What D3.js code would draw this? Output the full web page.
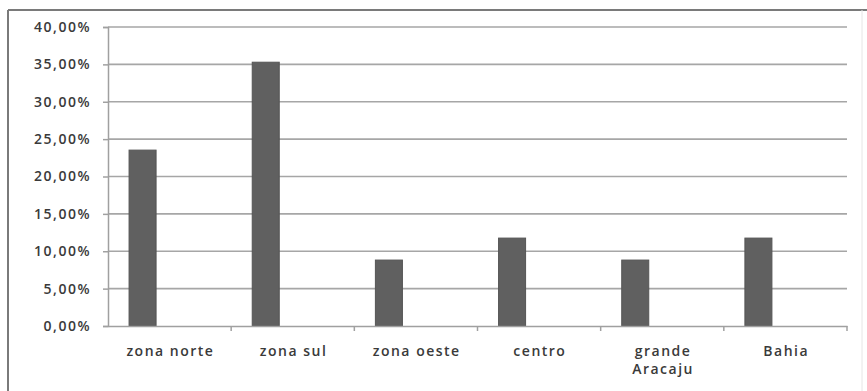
<!DOCTYPE html>
<html>
<head>
<meta charset="utf-8">
<script src="https://cdn.jsdelivr.net/npm/d3@7"></script>
<style>
  html, body { margin: 0; padding: 0; background: #fff; }
  svg { display: block; }
  text { font-family: "Open Sans", "Noto Sans", sans-serif; }
</style>
</head>
<body>
<svg id="chart" width="867" height="391"></svg>
<script>
const categories = ["zona norte", "zona sul", "zona oeste", "centro", "grande Aracaju", "Bahia"];
const categoryLines = [["zona norte"], ["zona sul"], ["zona oeste"], ["centro"], ["grande", "Aracaju"], ["Bahia"]];
const values = [0.2353, 0.3529, 0.0882, 0.1176, 0.0882, 0.1176];
const yTicks = [0, 0.05, 0.10, 0.15, 0.20, 0.25, 0.30, 0.35, 0.40];
const seriesSlots = ["s1", "s2", "s3"];

(function() {
const svg = d3.select("#chart");
const mLeft = 108, mRight = 847, mTop = 27, mBottom = 326;

// frame
svg.append("line").attr("x1", 8).attr("x2", 867).attr("y1", 10).attr("y2", 10)
  .attr("stroke", "#7a7a7a").attr("stroke-width", 2);
svg.append("line").attr("x1", 8).attr("x2", 8).attr("y1", 10).attr("y2", 391)
  .attr("stroke", "#7a7a7a").attr("stroke-width", 2);
svg.append("line").attr("x1", 862).attr("x2", 862).attr("y1", 10).attr("y2", 391)
  .attr("stroke", "#e6e6e6").attr("stroke-width", 1);

const x = d3.scaleBand().domain(categories).range([mLeft, mRight]).padding(0);
const inner = d3.scaleBand().domain(seriesSlots).range([0, x.bandwidth()])
  .paddingInner(0).paddingOuter(0.78);
const y = d3.scaleLinear().domain([0, 0.40]).range([mBottom, mTop]);

const fmt = v => d3.format(".2f")(v * 100).replace(".", ",") + "%";

// gridlines
svg.append("g").selectAll("line").data(yTicks.filter(t => t > 0)).join("line")
  .attr("x1", mLeft).attr("x2", mRight)
  .attr("y1", d => y(d)).attr("y2", d => y(d))
  .attr("stroke", "#a6a6a6").attr("stroke-width", 1.6);

// y axis
const yAxis = svg.append("g").attr("transform", `translate(${mLeft},0)`)
  .call(d3.axisLeft(y).tickValues(yTicks).tickFormat(fmt).tickSize(5).tickPadding(12));
yAxis.select(".domain").attr("stroke", "#a0a0a0").attr("stroke-width", 1.5);
yAxis.selectAll(".tick line").attr("stroke", "#a0a0a0").attr("stroke-width", 1.5);
yAxis.selectAll(".tick text").attr("fill", "#3a3a3a").attr("font-size", 14)
  .attr("font-weight", 600).attr("letter-spacing", 1.5)
  .attr("font-family", "'Open Sans', sans-serif");

// bars
svg.append("g").selectAll("rect").data(categories).join("rect")
  .attr("x", (d) => x(d) + inner("s1"))
  .attr("width", inner.bandwidth())
  .attr("y", (d, i) => y(values[i]))
  .attr("height", (d, i) => y(0) - y(values[i]))
  .attr("fill", "#606060").attr("stroke", "#555").attr("stroke-width", 1);

// x axis
const xAxis = svg.append("g").attr("transform", `translate(0,${mBottom})`)
  .call(d3.axisBottom(x).tickSize(0).tickFormat(""));
xAxis.select(".domain").attr("stroke", "#a0a0a0").attr("stroke-width", 1.5);
svg.append("g").selectAll("line").data(categories).join("line")
  .attr("x1", d => x(d) + x.bandwidth()).attr("x2", d => x(d) + x.bandwidth())
  .attr("y1", mBottom).attr("y2", mBottom + 5)
  .attr("stroke", "#a0a0a0").attr("stroke-width", 1.5);

// category labels
const labels = svg.append("g").selectAll("text").data(categories).join("text")
  .attr("text-anchor", "middle").attr("fill", "#3a3a3a")
  .attr("font-size", 14).attr("font-weight", 600).attr("letter-spacing", 1.5);
labels.each(function(d, i) {
  const t = d3.select(this);
  categoryLines[i].forEach((ln, j) => {
    t.append("tspan").attr("x", x(d) + x.bandwidth() / 2 + 0.8).attr("y", 356 + j * 18).text(ln);
  });
});
})();
</script>
</body>
</html>
